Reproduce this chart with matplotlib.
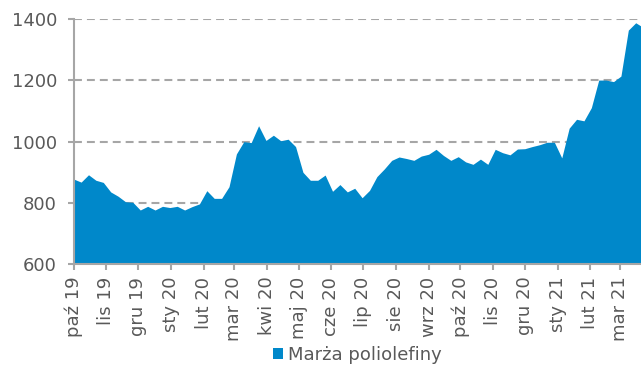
import numpy as np
import pandas as pd
import matplotlib
matplotlib.use("Agg")
import matplotlib.pyplot as plt
from matplotlib.patches import Patch

# Weekly polyolefin margin series, starting at the beginning of October 2019
start_date = "2019-10-01"
margin = [
    878, 868, 892, 874, 867, 836, 822, 804, 802, 777,
    789, 777, 789, 785, 789, 777, 788, 797, 840, 815,
    815, 853, 960, 1000, 997, 1052, 1004, 1021, 1003, 1008,
    984, 900, 874, 874, 891, 838, 860, 836, 848, 817,
    841, 886, 911, 939, 950, 945, 939, 953, 959, 975,
    955, 939, 951, 934, 926, 943, 926, 975, 964, 957,
    976, 977, 984, 990, 998, 998, 947, 1044, 1073, 1068,
    1111, 1201, 1201, 1196, 1214, 1364, 1388, 1373,
]
series_name = "Marża poliolefiny"

tick_months = pd.date_range("2019-10-01", "2021-03-01", freq="MS")
tick_labels = [
    "paź 19", "lis 19", "gru 19", "sty 20", "lut 20", "mar 20",
    "kwi 20", "maj 20", "cze 20", "lip 20", "sie 20", "wrz 20",
    "paź 20", "lis 20", "gru 20", "sty 21", "lut 21", "mar 21",
]
y_ticks = [600, 800, 1000, 1200, 1400]

dates = pd.date_range(start_date, periods=len(margin), freq="7D")

fill_color = "#0088CA"
axis_grey = "#A6A6A6"
text_grey = "#595959"

plt.rcParams["font.family"] = ["DejaVu Sans"]

fig = plt.figure(figsize=(6.41, 3.67), dpi=100)
ax = fig.add_axes([0.115, 0.280, 0.885, 0.668])

ax.fill_between(dates, y_ticks[0], margin, color=fill_color, linewidth=0)

ax.set_ylim(y_ticks[0], y_ticks[-1])
ax.set_xlim(dates[0], dates[0] + pd.Timedelta(days=537))

ax.set_yticks(y_ticks)
ax.set_yticklabels([str(v) for v in y_ticks])
ax.set_xticks(tick_months)
ax.set_xticklabels(tick_labels, rotation=90)

ax.set_axisbelow(True)
ax.yaxis.grid(True, color=axis_grey, linewidth=1.5, linestyle=(0, (3.8, 2.4)))
ax.xaxis.grid(False)

for side in ("top", "right"):
    ax.spines[side].set_visible(False)
for side in ("left", "bottom"):
    ax.spines[side].set_color(axis_grey)
    ax.spines[side].set_linewidth(1.5)

ax.tick_params(axis="y", length=4, width=1.5, color=axis_grey, pad=8,
               labelsize=13, labelcolor=text_grey)
ax.tick_params(axis="x", length=4, width=1.5, color=axis_grey, pad=5,
               labelsize=13, labelcolor=text_grey)

handle = Patch(facecolor=fill_color, edgecolor="none")
fig.legend([handle], [series_name], loc="center",
           bbox_to_anchor=((0.115 + 1.0) / 2, 0.032), frameon=False,
           fontsize=13, labelcolor=text_grey, handlelength=0.55,
           handleheight=0.55, handletextpad=0.3, borderpad=0)

fig.savefig("out.png", dpi=100)
